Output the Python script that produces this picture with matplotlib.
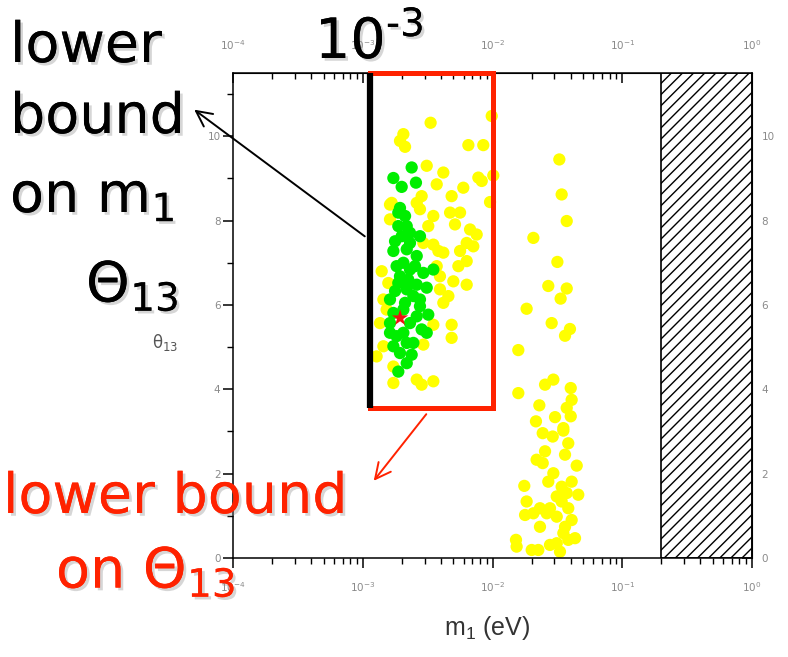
import numpy as np
import matplotlib
matplotlib.use('Agg')
from matplotlib import pyplot as plt
from matplotlib import patheffects as pe
from matplotlib.patches import Rectangle
from matplotlib.ticker import MultipleLocator, LogLocator, NullFormatter

plt.rcParams['mathtext.default'] = 'regular'

W, H = 788, 657
RED = '#ff2200'
YELLOW = '#ffff00'
GREEN = '#00ee00'
TICKGRAY = '#8a8a8a'

# log10(m1 / eV) and theta13 (degrees)
yellow_log_m1 = [
    -2.477, -2.687, -2.713, -2.674, -2.186, -2.071, -2.006, -2.507, -2.379,
    -2.430, -2.109, -2.083, -1.994, -2.225, -2.315, -2.019, -2.546, -2.584,
    -2.790, -2.456, -2.327, -2.250, -2.289, -2.173, -2.122, -2.199, -2.148,
    -2.250, -2.456, -2.417, -2.379, -2.263, -2.199, -2.302, -2.199, -2.854,
    -2.803, -2.430, -2.405, -2.405, -2.379, -2.340, -2.841, -2.816, -2.867,
    -2.456, -2.315, -2.315, -2.841, -2.893, -2.533, -2.764, -2.764, -2.584,
    -2.456, -2.546, -2.777, -2.790, -2.559, -2.495, -2.533,
    # second branch
    -1.485, -1.467, -1.428, -1.685, -1.500, -1.570, -1.428, -1.475, -1.737,
    -1.544, -1.403, -1.441, -1.801, -1.531, -1.595, -1.397, -1.801, -1.390,
    -1.639, -1.428, -1.397, -1.518, -1.665, -1.454,
    -1.613, -1.536, -1.454, -1.416, -1.595, -1.660, -1.441, -1.613, -1.351,
    -1.531, -1.570, -1.390, -1.755, -1.467, -1.339, -1.737, -1.634, -1.557,
    -1.467, -1.416, -1.749, -1.685, -1.505, -1.390, -1.634, -1.441, -1.364,
    -1.819, -1.814, -1.505, -1.557, -1.698, -1.647, -1.480, -1.416, -1.454,
    -1.582, -1.505, -1.428,
]
yellow_theta13 = [
    10.32, 10.05, 9.89, 9.75, 9.79, 9.79, 10.48, 9.30, 9.14,
    8.86, 9.02, 8.94, 9.07, 8.78, 8.58, 8.44, 8.58, 8.42,
    8.38, 8.11, 8.19, 8.19, 7.91, 7.79, 7.67, 7.47, 7.39,
    7.28, 7.43, 7.28, 7.24, 6.92, 7.04, 6.56, 6.48, 6.80,
    6.52, 6.92, 6.68, 6.37, 6.05, 6.21, 6.13, 5.89, 5.57,
    5.53, 5.53, 5.22, 5.02, 4.78, 5.06, 4.54, 4.15, 4.23,
    4.19, 4.11, 8.42, 8.03, 8.27, 7.87, 7.47,
    9.45, 8.62, 7.99, 7.59, 7.02, 6.45, 6.39, 6.15, 5.91,
    5.57, 5.43, 5.27, 4.93, 4.23, 4.11, 4.03, 3.91, 3.75,
    3.62, 3.56, 3.36, 3.34, 3.24, 3.08,
    2.96, 2.88, 3.02, 2.72, 2.53, 2.33, 2.45, 2.25, 2.19,
    2.01, 1.81, 1.81, 1.71, 1.69, 1.50, 1.34, 1.18, 1.18,
    1.34, 1.18, 1.02, 1.06, 0.98, 0.90, 0.74, 0.74, 0.47,
    0.43, 0.27, 0.35, 0.31, 0.19, 0.19, 0.15, 0.43, 0.59,
    1.06, 1.46, 1.54,
]
green_log_m1 = [
    -2.623, -2.764, -2.700, -2.590, -2.713, -2.674, -2.726, -2.636, -2.559,
    -2.764, -2.661, -2.584, -2.739, -2.636, -2.533, -2.456, -2.726, -2.584,
    -2.507, -2.790, -2.674, -2.559, -2.495, -2.790, -2.636, -2.546, -2.739,
    -2.610, -2.507, -2.713, -2.623, -2.661, -2.726, -2.687, -2.661, -2.700,
    -2.636, -2.687, -2.610, -2.764, -2.584, -2.687, -2.790, -2.559,
    -2.726, -2.661, -2.751, -2.597, -2.713, -2.751, -2.649, -2.661, -2.764,
]
green_theta13 = [
    9.26, 9.01, 8.80, 8.90, 8.30, 8.11, 7.87, 7.71, 7.63,
    7.28, 7.32, 7.16, 6.92, 6.84, 6.76, 6.84, 6.52, 6.48,
    6.41, 6.13, 6.05, 5.97, 5.77, 5.57, 5.57, 5.42, 5.26,
    5.10, 5.34, 4.86, 4.82, 4.62, 4.42, 5.89, 6.37, 7.63,
    7.47, 7.00, 6.21, 5.81, 5.73, 5.34, 5.34, 6.13,
    8.19, 7.87, 7.51, 6.92, 6.68, 6.33, 6.60, 5.10, 5.02,
]
best_fit_m1 = [1.94e-3]
best_fit_theta13 = [5.69]

m1_bound = 1.13e-3        # lower bound on m1
theta13_bound = 3.55      # lower bound on theta13
box_m1_max = 1.0e-2
excluded_m1 = (0.2, 1.0)  # hatched region


def fx(px):
    return px / W


def fy(py):
    return 1 - py / H


shadow = [pe.withSimplePatchShadow(offset=(2, -2), shadow_rgbFace='0.55', alpha=0.35),
          pe.Normal()]

fig = plt.figure(figsize=(W / 100, H / 100), dpi=100)
ax = fig.add_axes([fx(233), fy(558), (752 - 233) / W, (558 - 73) / H])

ax.set_xscale('log')
ax.set_xlim(1e-4, 1)
ax.set_ylim(0, 11.5)

ax.scatter(10 ** np.array(yellow_log_m1), yellow_theta13, s=78, c=YELLOW,
           edgecolors='none', zorder=2)
ax.scatter(10 ** np.array(green_log_m1), green_theta13, s=78, c=GREEN,
           edgecolors='none', zorder=3)
ax.scatter(best_fit_m1, best_fit_theta13, marker='*', s=150, c='#ee1111',
           edgecolors='none', zorder=4)

ax.axvspan(*excluded_m1, facecolor='white', edgecolor='black', hatch='///',
           lw=1.2, zorder=1)

ax.add_patch(Rectangle((m1_bound, theta13_bound), box_m1_max - m1_bound,
                       11.5 - theta13_bound, fill=False, edgecolor=RED,
                       lw=3.6, zorder=5, clip_on=False))
ax.vlines(m1_bound, theta13_bound, 11.5, color='black', lw=4.5, zorder=6)

# ticks: out on bottom/left, in on top/right
for sp in ax.spines.values():
    sp.set_linewidth(1.1)
ax.xaxis.set_major_locator(LogLocator(base=10, numticks=10))
ax.xaxis.set_minor_locator(LogLocator(base=10, subs=np.arange(2, 10), numticks=10))
ax.xaxis.set_minor_formatter(NullFormatter())
ax.yaxis.set_major_locator(MultipleLocator(2))
ax.yaxis.set_minor_locator(MultipleLocator(1))
ax.tick_params(which='major', direction='out', length=7, width=1.1,
               labelsize=7.5, labelcolor=TICKGRAY)
ax.tick_params(which='minor', direction='out', length=4, width=1.0)
ax.tick_params(axis='x', pad=9)
ax.tick_params(axis='y', pad=2)

axt = ax.secondary_xaxis('top')
axt.xaxis.set_minor_formatter(NullFormatter())
axt.tick_params(which='major', direction='in', length=7, width=1.1,
                labelsize=7.5, labelcolor=TICKGRAY, pad=15)
axt.tick_params(which='minor', direction='in', length=4, width=1.0)

axr = ax.secondary_yaxis('right')
axr.yaxis.set_major_locator(MultipleLocator(2))
axr.yaxis.set_minor_locator(MultipleLocator(1))
axr.tick_params(which='major', direction='in', length=7, width=1.1,
                labelsize=7.5, labelcolor=TICKGRAY, pad=7)
axr.tick_params(which='minor', direction='in', length=4, width=1.0)

ax.set_xlabel('m$_1$ (eV)', fontsize=18, color='#333333',
              family='Liberation Sans')
ax.xaxis.set_label_coords(0.49, -0.115)
ax.set_ylabel(r'$\theta_{13}$', fontsize=12, color='#555555', rotation=0,
              ha='center', va='center')
ax.yaxis.set_label_coords(-0.131, 0.445)

# annotations
big = dict(fontsize=40, va='baseline', path_effects=shadow)
fig.text(fx(10), fy(62), 'lower', color='black', **big)
fig.text(fx(10), fy(133), 'bound', color='black', **big)
fig.text(fx(10), fy(212), 'on m$_1$', color='black', **big)
fig.text(fx(86), fy(302), 'Θ$_{13}$', color='black', **big)
fig.text(fx(315), fy(58), '10', color='black', **big)
fig.text(fx(386), fy(36), '-3', color='black', fontsize=28, va='baseline',
         path_effects=shadow)
fig.text(fx(3), fy(513), 'lower bound', color=RED, **big)
fig.text(fx(56), fy(588), 'on Θ$_{13}$', color=RED, **big)

ax.annotate('', xy=(fx(192), fy(108)), xycoords='figure fraction',
            xytext=(fx(367), fy(238)), textcoords='figure fraction',
            arrowprops=dict(arrowstyle='->', color='black', lw=1.4,
                            mutation_scale=28))
ax.annotate('', xy=(fx(372), fy(483)), xycoords='figure fraction',
            xytext=(fx(428), fy(412)), textcoords='figure fraction',
            arrowprops=dict(arrowstyle='->', color=RED, lw=1.4,
                            mutation_scale=28))

fig.savefig('out.png', dpi=100)
